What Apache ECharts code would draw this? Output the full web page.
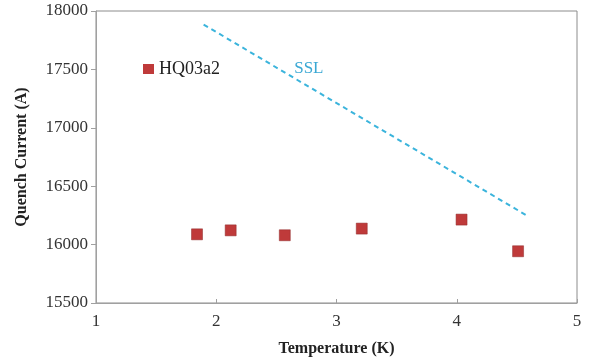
<!DOCTYPE html>
<html><head><meta charset="utf-8">
<script src="https://cdn.jsdelivr.net/npm/echarts@6/dist/echarts.min.js"></script>
<style>html,body{margin:0;padding:0;background:#fff}#c{width:594px;height:362px}</style>
</head><body><div id="c"></div>
<script>
const temperatures = [1.84, 2.12, 2.57, 3.21, 4.04, 4.51];
const quenchCurrents = [16088, 16122, 16080, 16137, 16214, 15943];
const sslTemps = [1.895, 4.584];
const sslCurrents = [17884, 16248];
const sslLabelPos = [2.77, 17510];
const xTicks = [1, 2, 3, 4, 5];
const yTicks = [15500, 16000, 16500, 17000, 17500, 18000];

const font = '"Liberation Serif", "DejaVu Serif", serif';
const chart = echarts.init(document.getElementById('c'));
chart.setOption({
  animation: false,
  backgroundColor: '#fff',
  grid: {left: 96, right: 17, top: 11, bottom: 59, show: true, borderColor: '#8c8c8c', borderWidth: 1},
  legend: {
    data: [{name: 'HQ03a2', icon: 'rect', itemStyle: {borderWidth: 0}}],
    left: 138, top: 55, itemWidth: 11, itemHeight: 10, itemGap: 10,
    textStyle: {fontFamily: font, fontSize: 18, color: '#222'}
  },
  xAxis: {
    type: 'value', min: xTicks[0], max: xTicks[xTicks.length-1], interval: 1,
    name: 'Temperature (K)', nameLocation: 'middle', nameGap: 38,
    nameTextStyle: {fontFamily: font, fontSize: 16, fontWeight: 'bold', color: '#222'},
    axisLine: {lineStyle: {color: '#a0a0a0'}},
    axisTick: {inside: true, length: 4, lineStyle: {color: '#a0a0a0'}},
    axisLabel: {fontFamily: font, fontSize: 17, color: '#333', margin: 10},
    splitLine: {show: false}
  },
  yAxis: {
    type: 'value', min: yTicks[0], max: yTicks[yTicks.length-1], interval: 500,
    name: 'Quench Current (A)', nameLocation: 'middle', nameGap: 66, nameRotate: 90,
    nameTextStyle: {fontFamily: font, fontSize: 16, fontWeight: 'bold', color: '#222'},
    axisLine: {show: true, lineStyle: {color: '#a0a0a0'}},
    axisTick: {show: true, length: 5, lineStyle: {color: '#a0a0a0'}},
    axisLabel: {fontFamily: font, fontSize: 17, color: '#333', margin: 8, formatter: v => String(v)},
    splitLine: {show: false}
  },
  series: [
    {
      name: 'HQ03a2', type: 'scatter', symbol: 'rect', symbolSize: 11,
      itemStyle: {color: '#bf3a3a', opacity: 1, borderColor: '#8f2a2a', borderWidth: 0.5},
      data: temperatures.map((t, i) => [t, quenchCurrents[i]])
    },
    {
      name: 'SSL', type: 'line', showSymbol: false, symbol: 'none',
      lineStyle: {color: '#3bb4dc', width: 2, type: [5, 4]},
      data: sslTemps.map((t, i) => [t, sslCurrents[i]]),
      markPoint: {
        symbol: 'circle', symbolSize: 0,
        label: {show: true, formatter: 'SSL', fontFamily: font, fontSize: 17, color: '#3aa8d4', position: 'inside'},
        data: [{coord: sslLabelPos}]
      }
    }
  ]
});
</script></body></html>
